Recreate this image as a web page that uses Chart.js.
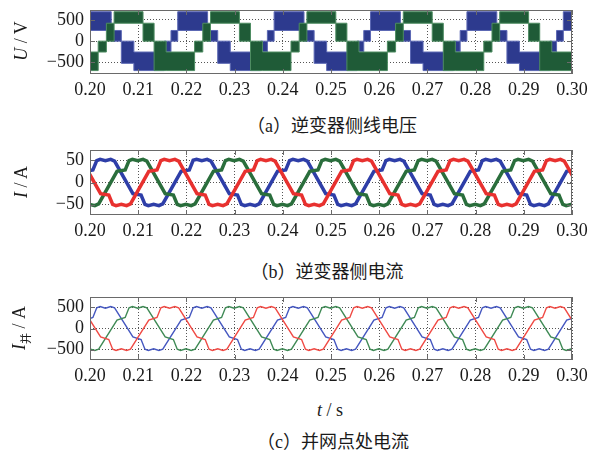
<!DOCTYPE html>
<html>
<head>
<meta charset="utf-8">
<script src="https://cdn.jsdelivr.net/npm/chart.js@4.4.1/dist/chart.umd.min.js"></script>
<style>
  html, body { margin: 0; padding: 0; background: #fff; }
  body { width: 593px; height: 455px; position: relative; overflow: hidden;
         font-family: 'Liberation Serif', 'Noto Sans CJK SC', serif; color: #1a1a1a; }
  canvas { position: absolute; left: 0; }
  .ylab { position: absolute; font-size: 18px; white-space: nowrap; transform: translate(-50%, -50%) rotate(-90deg); }
  .cap { position: absolute; font-size: 18px; white-space: nowrap; transform: translate(-50%, -50%); }
  .cjk { font-family: 'Noto Sans CJK SC', sans-serif; }
</style>
</head>
<body>
<canvas id="voltChart" width="593" height="94" style="top:8px"></canvas>
<canvas id="invChart" width="593" height="95" style="top:148px"></canvas>
<canvas id="gridChart" width="593" height="93" style="top:295px"></canvas>

<div class="ylab" style="left:21px; top:41px"><i>U</i> / V</div>
<div class="ylab" style="left:21px; top:182px"><i>I</i> / A</div>
<div class="ylab" style="left:21px; top:328px"><i>I</i><sub class="cjk" style="font-size:11px">并</sub> / A</div>
<div class="cap" style="left:332px; top:124px">（a）<span class="cjk">逆变器侧线电压</span></div>
<div class="cap" style="left:327px; top:270px">（b）<span class="cjk">逆变器侧电流</span></div>
<div class="cap" style="left:330px; top:410px"><i>t</i> / s</div>
<div class="cap" style="left:333px; top:440px">（c）<span class="cjk">并网点处电流</span></div>

<script>
// time axis in ms, labelled in seconds
const TIME_TICKS = [200, 210, 220, 230, 240, 250, 260, 270, 280, 290, 300];
const VOLT_TICKS = [-500, 0, 500];
const INV_TICKS = [-50, 0, 50];
const GRID_TICKS = [-500, 0, 500];

// (a) line voltages: PWM bands, segment start times (ms) and band low/high (V)
const VB_T = [198.2, 204.4, 206.5, 209.1, 215.4, 216.8,
              218.2, 224.4, 226.5, 229.1, 235.4, 236.8,
              238.2, 244.4, 246.5, 249.1, 255.4, 256.8,
              258.2, 264.4, 266.5, 269.1, 275.4, 276.8,
              278.2, 284.4, 286.5, 289.1, 295.4, 296.8,
              298.2, 301];
const VB_HI = [690, 250, 0, -255, 0, 250,
               690, 250, 0, -255, 0, 250,
               690, 250, 0, -255, 0, 250,
               690, 250, 0, -255, 0, 250,
               690, 250, 0, -255, 0, 250,
               690, 690];
const VB_LO = [250, 0, -520, -690, -250, 0,
               250, 0, -520, -690, -250, 0,
               250, 0, -520, -690, -250, 0,
               250, 0, -520, -690, -250, 0,
               250, 0, -520, -690, -250, 0,
               250, 250];

const VG_T = [195.8,
              201.7, 203.4, 205.0, 211.0, 213.3, 215.8,
              221.7, 223.4, 225.0, 231.0, 233.3, 235.8,
              241.7, 243.4, 245.0, 251.0, 253.3, 255.8,
              261.7, 263.4, 265.0, 271.0, 273.3, 275.8,
              281.7, 283.4, 285.0, 291.0, 293.3, 295.8,
              301];
const VG_HI = [-255,
               0, 420, 690, 420, 0, -255,
               0, 420, 690, 420, 0, -255,
               0, 420, 690, 420, 0, -255,
               0, 420, 690, 420, 0, -255,
               0, 420, 690, 420, 0, -255,
               -255];
const VG_LO = [-690,
               -255, 0, 420, 0, -690, -690,
               -255, 0, 420, 0, -690, -690,
               -255, 0, 420, 0, -690, -690,
               -255, 0, 420, 0, -690, -690,
               -255, 0, 420, 0, -690, -690,
               -690];

// (b) and (c) phase currents: waveform corner points (ms)
const BLUE_T = [198.9,
  200.6, 201.4, 202.1, 203.2, 204.3, 205.1, 208.9, 210.6, 211.4, 212.1, 213.2, 214.3, 215.1, 218.9,
  220.6, 221.4, 222.1, 223.2, 224.3, 225.1, 228.9, 230.6, 231.4, 232.1, 233.2, 234.3, 235.1, 238.9,
  240.6, 241.4, 242.1, 243.2, 244.3, 245.1, 248.9, 250.6, 251.4, 252.1, 253.2, 254.3, 255.1, 258.9,
  260.6, 261.4, 262.1, 263.2, 264.3, 265.1, 268.9, 270.6, 271.4, 272.1, 273.2, 274.3, 275.1, 278.9,
  280.6, 281.4, 282.1, 283.2, 284.3, 285.1, 288.9, 290.6, 291.4, 292.1, 293.2, 294.3, 295.1, 298.9,
  300.6];
const GREEN_T = [198.8, 199.9, 201.0, 201.8, 205.6,
  207.3, 208.1, 208.8, 209.9, 211.0, 211.8, 215.6, 217.3, 218.1, 218.8, 219.9, 221.0, 221.8, 225.6,
  227.3, 228.1, 228.8, 229.9, 231.0, 231.8, 235.6, 237.3, 238.1, 238.8, 239.9, 241.0, 241.8, 245.6,
  247.3, 248.1, 248.8, 249.9, 251.0, 251.8, 255.6, 257.3, 258.1, 258.8, 259.9, 261.0, 261.8, 265.6,
  267.3, 268.1, 268.8, 269.9, 271.0, 271.8, 275.6, 277.3, 278.1, 278.8, 279.9, 281.0, 281.8, 285.6,
  287.3, 288.1, 288.8, 289.9, 291.0, 291.8, 295.6, 297.3, 298.1, 298.8, 299.9, 301.0];
const RED_T = [197.6, 198.4, 202.2, 203.9, 204.7, 205.4, 206.5, 207.6, 208.4, 212.2,
  213.9, 214.7, 215.4, 216.5, 217.6, 218.4, 222.2, 223.9, 224.7, 225.4, 226.5, 227.6, 228.4, 232.2,
  233.9, 234.7, 235.4, 236.5, 237.6, 238.4, 242.2, 243.9, 244.7, 245.4, 246.5, 247.6, 248.4, 252.2,
  253.9, 254.7, 255.4, 256.5, 257.6, 258.4, 262.2, 263.9, 264.7, 265.4, 266.5, 267.6, 268.4, 272.2,
  273.9, 274.7, 275.4, 276.5, 277.6, 278.4, 282.2, 283.9, 284.7, 285.4, 286.5, 287.6, 288.4, 292.2,
  293.9, 294.7, 295.4, 296.5, 297.6, 298.4, 302.2];

// inverter side currents (A)
const INV_BLUE = [25,
  28, 49, 52, 49, 52, 48, -25, -28, -49, -52, -49, -52, -48, 25,
  28, 50, 52, 49, 52, 48, -25, -28, -49, -52, -49, -52, -48, 25,
  28, 49, 52, 49, 52, 48, -25, -28, -49, -52, -49, -52, -48, 25,
  28, 49, 52, 49, 52, 48, -25, -28, -49, -52, -49, -52, -48, 25,
  28, 49, 52, 49, 52, 48, -25, -28, -49, -52, -49, -52, -48, 25,
  28];
const INV_GREEN = [-52, -49, -52, -48, 25,
  28, 49, 52, 49, 52, 48, -25, -28, -49, -52, -49, -52, -48, 25,
  28, 49, 52, 49, 52, 48, -25, -28, -49, -52, -49, -52, -48, 25,
  28, 49, 52, 49, 52, 48, -25, -28, -49, -52, -49, -52, -48, 25,
  28, 49, 52, 49, 52, 48, -25, -28, -49, -52, -49, -52, -48, 25,
  28, 49, 52, 49, 52, 48, -25, -28, -49, -52, -49, -52];
const INV_RED = [52, 48, -25, -28, -49, -52, -49, -52, -48, 25,
  28, 49, 52, 49, 52, 48, -25, -28, -49, -52, -49, -52, -48, 25,
  28, 49, 52, 49, 52, 48, -25, -28, -49, -52, -49, -52, -48, 25,
  28, 49, 52, 49, 52, 48, -25, -28, -49, -52, -49, -52, -48, 25,
  28, 49, 52, 49, 52, 48, -25, -28, -49, -52, -49, -52, -48, 25,
  28, 49, 52, 49, 52, 48, -25];

// grid side currents (A)
const GRID_BLUE = [200,
  260, 490, 520, 480, 520, 490, -200, -260, -490, -520, -480, -520, -490, 200,
  260, 490, 520, 480, 520, 490, -200, -260, -490, -520, -480, -520, -490, 200,
  260, 490, 520, 480, 520, 490, -200, -260, -490, -520, -480, -520, -490, 200,
  260, 490, 520, 480, 520, 490, -200, -260, -490, -520, -480, -520, -490, 200,
  260, 490, 520, 480, 520, 490, -200, -260, -490, -520, -480, -520, -490, 200,
  260];
const GRID_GREEN = [-520, -480, -520, -490, 200,
  260, 490, 520, 480, 520, 490, -200, -260, -490, -520, -480, -520, -490, 200,
  260, 490, 520, 480, 520, 490, -200, -260, -490, -520, -480, -520, -490, 200,
  260, 490, 520, 480, 520, 490, -200, -260, -490, -520, -480, -520, -490, 200,
  260, 490, 520, 480, 520, 490, -200, -260, -490, -520, -480, -520, -490, 200,
  260, 490, 520, 480, 520, 490, -200, -260, -490, -520, -480, -520];
const GRID_RED = [520, 490, -200, -260, -490, -520, -480, -520, -490, 200,
  260, 490, 520, 480, 520, 490, -200, -260, -490, -520, -480, -520, -490, 200,
  260, 490, 520, 480, 520, 490, -200, -260, -490, -520, -480, -520, -490, 200,
  260, 490, 520, 480, 520, 490, -200, -260, -490, -520, -480, -520, -490, 200,
  260, 490, 520, 480, 520, 490, -200, -260, -490, -520, -480, -520, -490, 200,
  260, 490, 520, 480, 520, 490, -200];

Chart.defaults.font.family = "'Liberation Serif', serif";
Chart.defaults.font.size = 18;
Chart.defaults.color = '#1a1a1a';

function points(ts, vs) {
  return ts.map((t, i) => ({ x: t, y: vs[i] }));
}

// box around the plot with short inward ticks on all four sides
const frame = {
  id: 'frame',
  afterDatasetsDraw(chart) {
    const { ctx, chartArea: a, scales: { x, y } } = chart;
    ctx.save();
    ctx.strokeStyle = '#6a6a6a';
    ctx.lineWidth = 1;
    ctx.beginPath();
    x.ticks.forEach(t => {
      const px = Math.round(x.getPixelForValue(t.value)) + 0.5;
      ctx.moveTo(px, a.top); ctx.lineTo(px, a.top + 5);
      ctx.moveTo(px, a.bottom); ctx.lineTo(px, a.bottom - 5);
    });
    y.ticks.forEach(t => {
      const py = Math.round(y.getPixelForValue(t.value)) + 0.5;
      ctx.moveTo(a.left, py); ctx.lineTo(a.left + 5, py);
      ctx.moveTo(a.right, py); ctx.lineTo(a.right - 5, py);
    });
    ctx.stroke();
    ctx.strokeRect(a.left + 0.5, a.top + 0.5, a.width - 1, a.height - 1);
    ctx.restore();
  }
};

function makeOptions(yMin, yMax, yTicks) {
  return {
    responsive: false,
    animation: false,
    events: [],
    layout: { padding: { top: 2, right: 21, left: 0, bottom: 0 } },
    plugins: { legend: { display: false }, tooltip: { enabled: false } },
    scales: {
      x: {
        type: 'linear', min: 200, max: 300,
        afterBuildTicks: s => { s.ticks = TIME_TICKS.map(v => ({ value: v })); },
        afterFit: s => { s.height = 28; s.paddingLeft = 0; s.paddingRight = 0; },
        grid: { color: '#555', drawTicks: false },
        border: { display: false, dash: [1, 2] },
        ticks: { padding: 5, maxRotation: 0, autoSkip: false, callback: v => (v / 1000).toFixed(2) }
      },
      y: {
        min: yMin, max: yMax,
        afterBuildTicks: s => { s.ticks = yTicks.map(v => ({ value: v })); },
        afterFit: s => { s.width = 90; s.paddingTop = 0; s.paddingBottom = 0; },
        grid: { color: '#555', drawTicks: false },
        border: { display: false, dash: [1, 2] },
        ticks: { padding: 6, callback: v => v < 0 ? '\u2212' + (-v) : String(v) }
      }
    }
  };
}

// value of each point holds until the next point
function band(ts, lo, hi, fillColor, edgeColor, order) {
  return [
    { data: points(ts, hi), stepped: 'before', borderColor: edgeColor, borderWidth: 1,
      pointRadius: 0, fill: false, order: order },
    { data: points(ts, lo), stepped: 'before', borderColor: edgeColor, borderWidth: 1,
      pointRadius: 0, fill: '-1', backgroundColor: fillColor, order: order }
  ];
}

function curve(ts, vs, color, width) {
  return { data: points(ts, vs), borderColor: color, borderWidth: width,
           pointRadius: 0, tension: 0, fill: false };
}

new Chart(document.getElementById('voltChart'), {
  type: 'line',
  data: {
    datasets: [
      ...band(VB_T, VB_LO, VB_HI, '#2d3a8e', '#5c68b4', 1),
      ...band(VG_T, VG_LO, VG_HI, '#1f5b37', '#4e8c62', 0)
    ]
  },
  options: makeOptions(-770, 730, VOLT_TICKS),
  plugins: [frame]
});

new Chart(document.getElementById('invChart'), {
  type: 'line',
  data: {
    datasets: [
      curve(RED_T, INV_RED, '#e8312f', 3.5),
      curve(GREEN_T, INV_GREEN, '#2a6e3c', 3.5),
      curve(BLUE_T, INV_BLUE, '#2e3ea8', 3.5)
    ]
  },
  options: makeOptions(-73, 73, INV_TICKS),
  plugins: [frame]
});

new Chart(document.getElementById('gridChart'), {
  type: 'line',
  data: {
    datasets: [
      curve(RED_T, GRID_RED, '#f04a44', 1.4),
      curve(GREEN_T, GRID_GREEN, '#3f8a55', 1.4),
      curve(BLUE_T, GRID_BLUE, '#4557c0', 1.4)
    ]
  },
  options: makeOptions(-745, 745, GRID_TICKS),
  plugins: [frame]
});
</script>
</body>
</html>
